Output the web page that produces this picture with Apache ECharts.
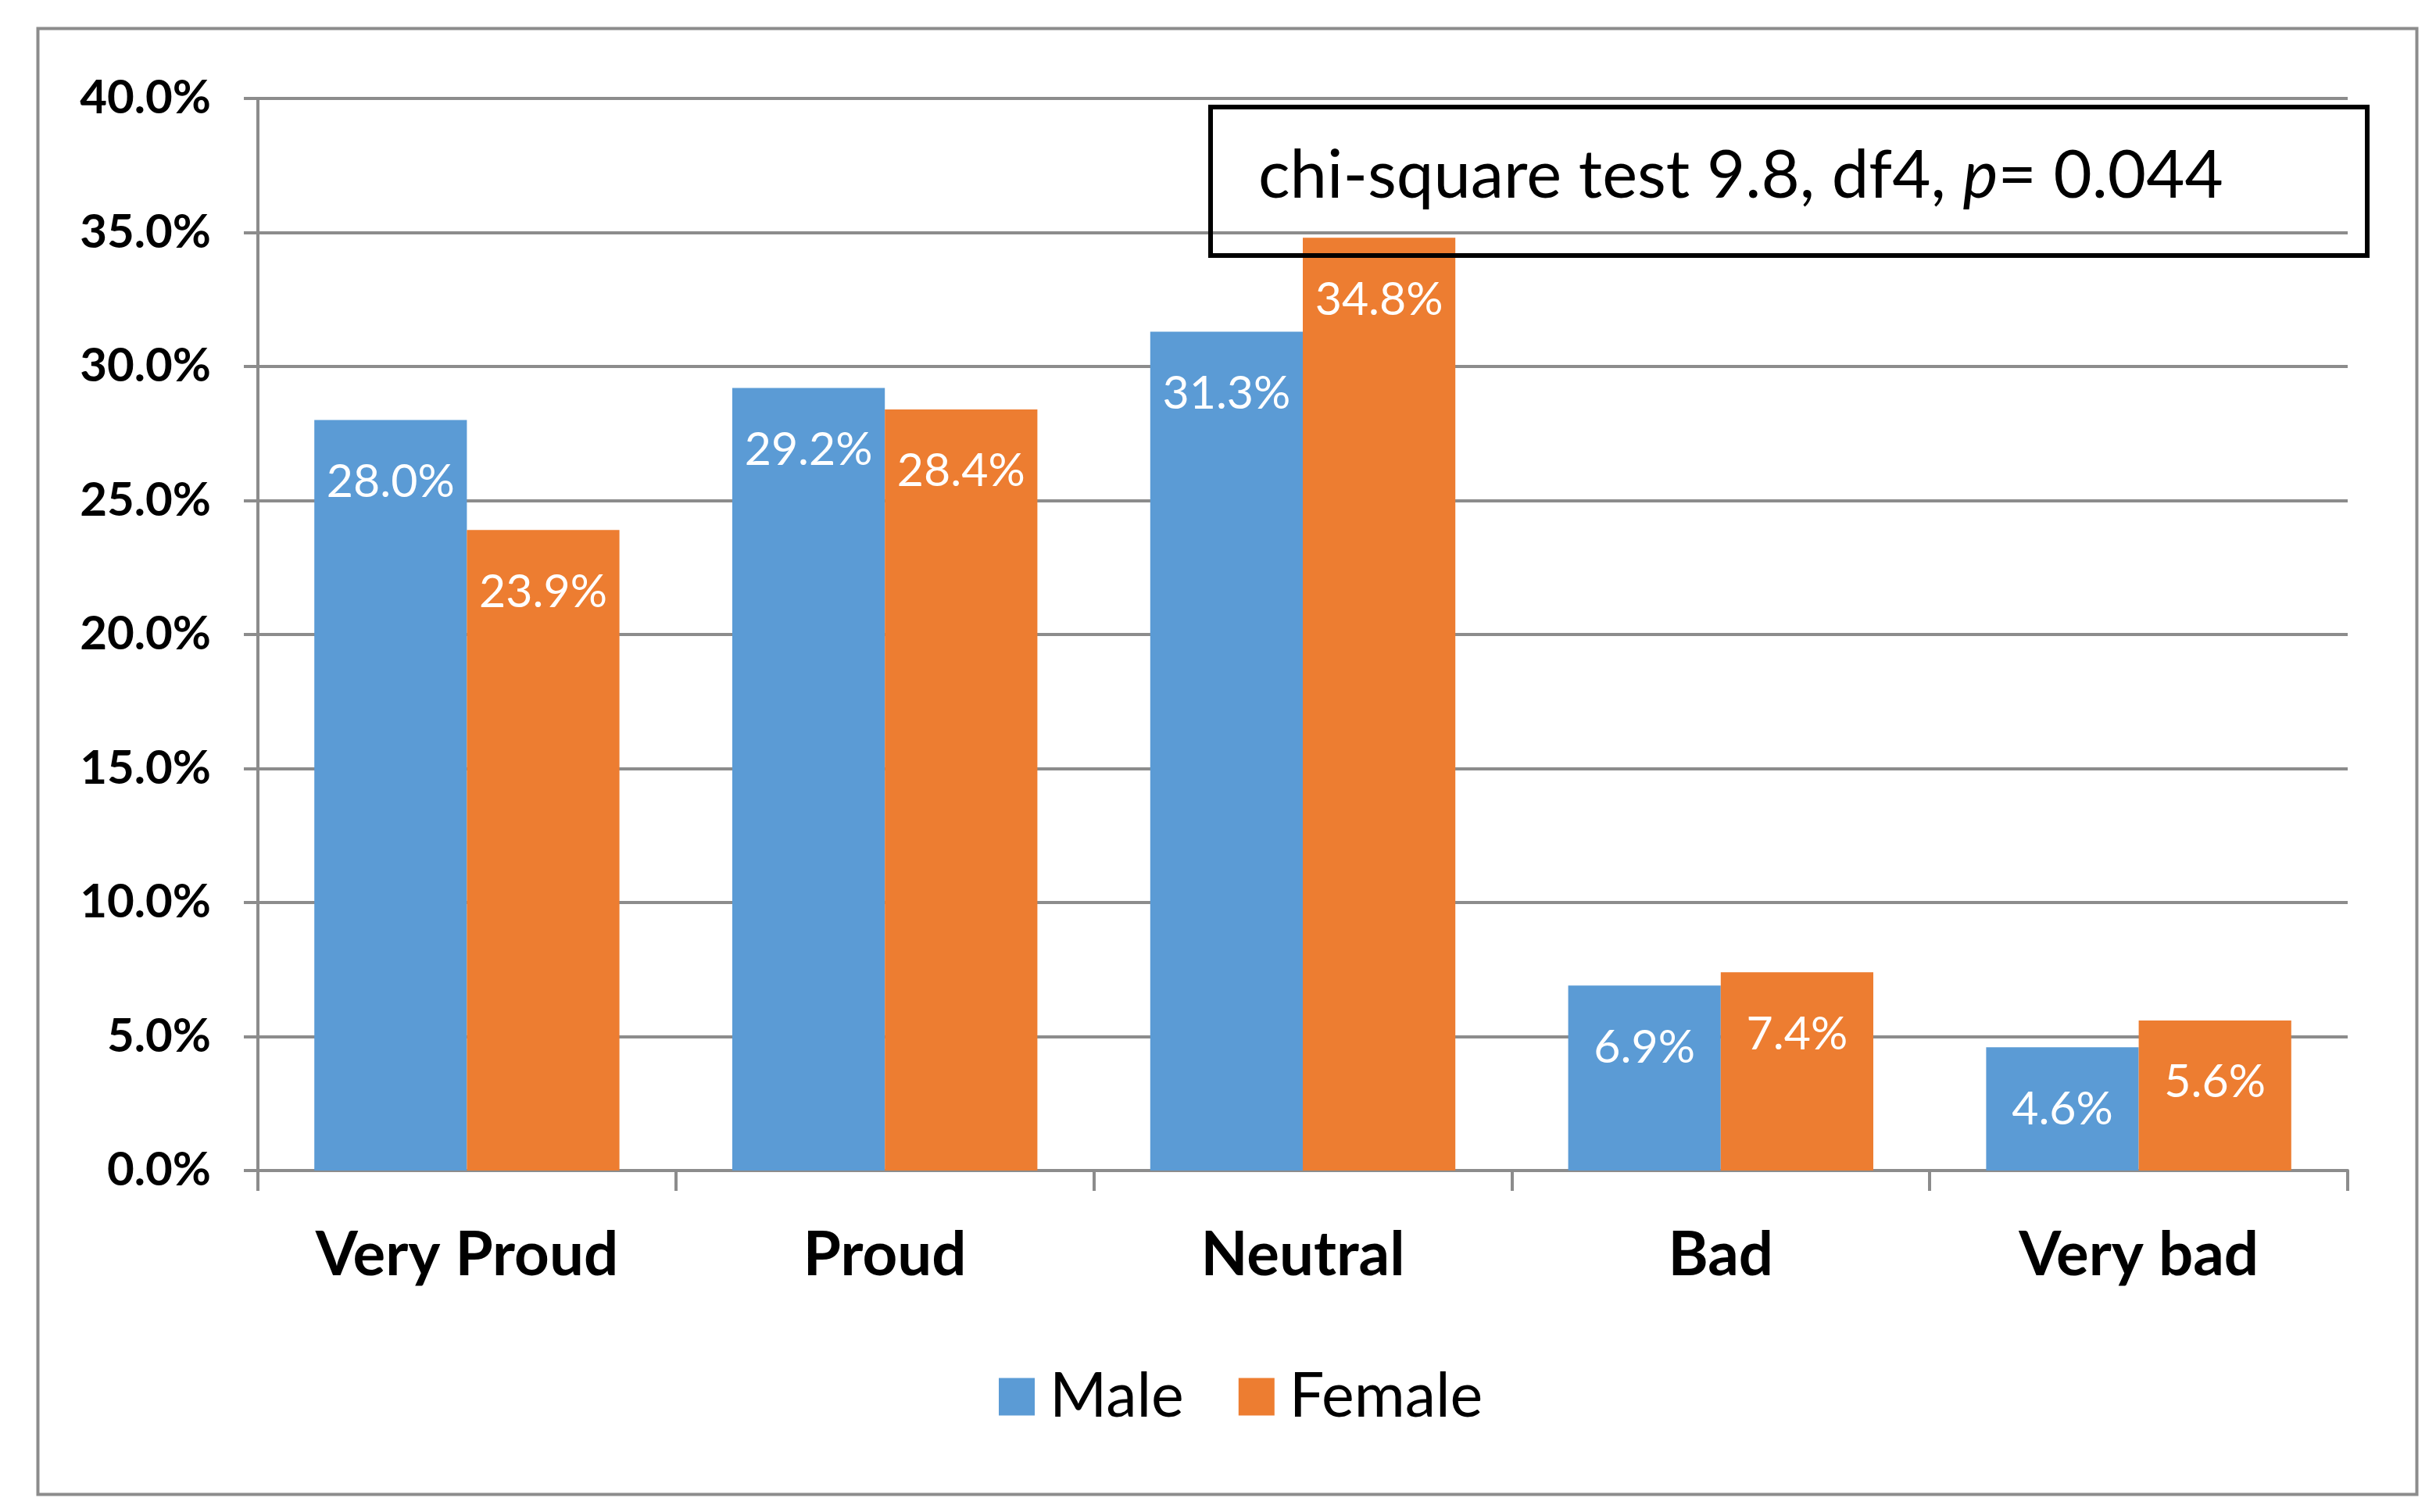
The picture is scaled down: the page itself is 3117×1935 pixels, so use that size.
<!DOCTYPE html>
<html>
<head>
<meta charset="utf-8">
<script src="https://cdn.jsdelivr.net/npm/echarts@6/dist/echarts.min.js"></script>
<style>
html,body{margin:0;padding:0;background:#fff;}
#chart{width:3117px;height:1935px;}
</style>
</head>
<body>
<div id="chart"></div>
<script>
const categories = ['Very Proud', 'Proud', 'Neutral', 'Bad', 'Very bad'];
const maleValues = [28.0, 29.2, 31.3, 6.9, 4.6];
const femaleValues = [23.9, 28.4, 34.8, 7.4, 5.6];
const seriesNames = ['Male', 'Female'];
const yTicks = { min: 0, max: 40, interval: 5 };

const FONT = 'Lato';
const chart = echarts.init(document.getElementById('chart'));
const labelCfg = {
  show: true,
  position: 'insideTop',
  distance: 50,
  color: '#ffffff',
  fontFamily: FONT,
  fontSize: 59,
  formatter: p => p.value.toFixed(1) + '%'
};
chart.setOption({
  animation: false,
  backgroundColor: '#ffffff',
  grid: { left: 330, right: 113, top: 126, bottom: 437, containLabel: false },
  legend: {
    left: 1273, top: 1743,
    itemWidth: 46, itemHeight: 48, itemGap: 70,
    icon: 'rect',
    textStyle: { fontFamily: FONT, fontSize: 79, color: '#000', padding: [0, 0, 0, 14] },
    data: seriesNames
  },
  xAxis: {
    type: 'category',
    data: categories,
    axisLine: { lineStyle: { color: '#8c8c8c', width: 4 } },
    axisTick: { show: true, length: 26, lineStyle: { color: '#8c8c8c', width: 4 } },
    axisLabel: { fontFamily: FONT, fontWeight: 'bold', fontSize: 78, color: '#000', margin: 70 }
  },
  yAxis: {
    type: 'value',
    min: yTicks.min, max: yTicks.max, interval: yTicks.interval,
    axisLine: { show: true, lineStyle: { color: '#8c8c8c', width: 4 } },
    axisTick: { show: true, length: 18, lineStyle: { color: '#8c8c8c', width: 4 } },
    splitLine: { lineStyle: { color: '#8c8c8c', width: 4 } },
    axisLabel: { fontFamily: FONT, fontWeight: 'bold', fontSize: 60, color: '#000', margin: 60,
      formatter: v => v.toFixed(1) + '%' }
  },
  series: [
    { name: seriesNames[0], type: 'bar', data: maleValues, barGap: '0%', barCategoryGap: '27%',
      itemStyle: { color: '#5B9BD5' }, label: labelCfg },
    { name: seriesNames[1], type: 'bar', data: femaleValues,
      itemStyle: { color: '#ED7D31' }, label: labelCfg }
  ],
  graphic: [
    { type: 'rect', left: 46, top: 34, z: -1,
      shape: { width: 3044, height: 1876 },
      style: { fill: 'none', stroke: '#8c8c8c', lineWidth: 4 } },
    { type: 'rect', left: 1546, top: 134, z: 100,
      shape: { width: 1480, height: 190 },
      style: { fill: 'none', stroke: '#000', lineWidth: 6 } },
    { type: 'text', left: 1610, top: 183, z: 101,
      style: {
        text: '{n|chi-square test 9.8, df4, }{i|p}{n|= 0.044}',
        rich: {
          n: { fontFamily: FONT, fontSize: 85, fill: '#000' },
          i: { fontFamily: FONT, fontSize: 85, fontStyle: 'italic', fill: '#000' }
        }
      } }
  ]
});
</script>
</body>
</html>
